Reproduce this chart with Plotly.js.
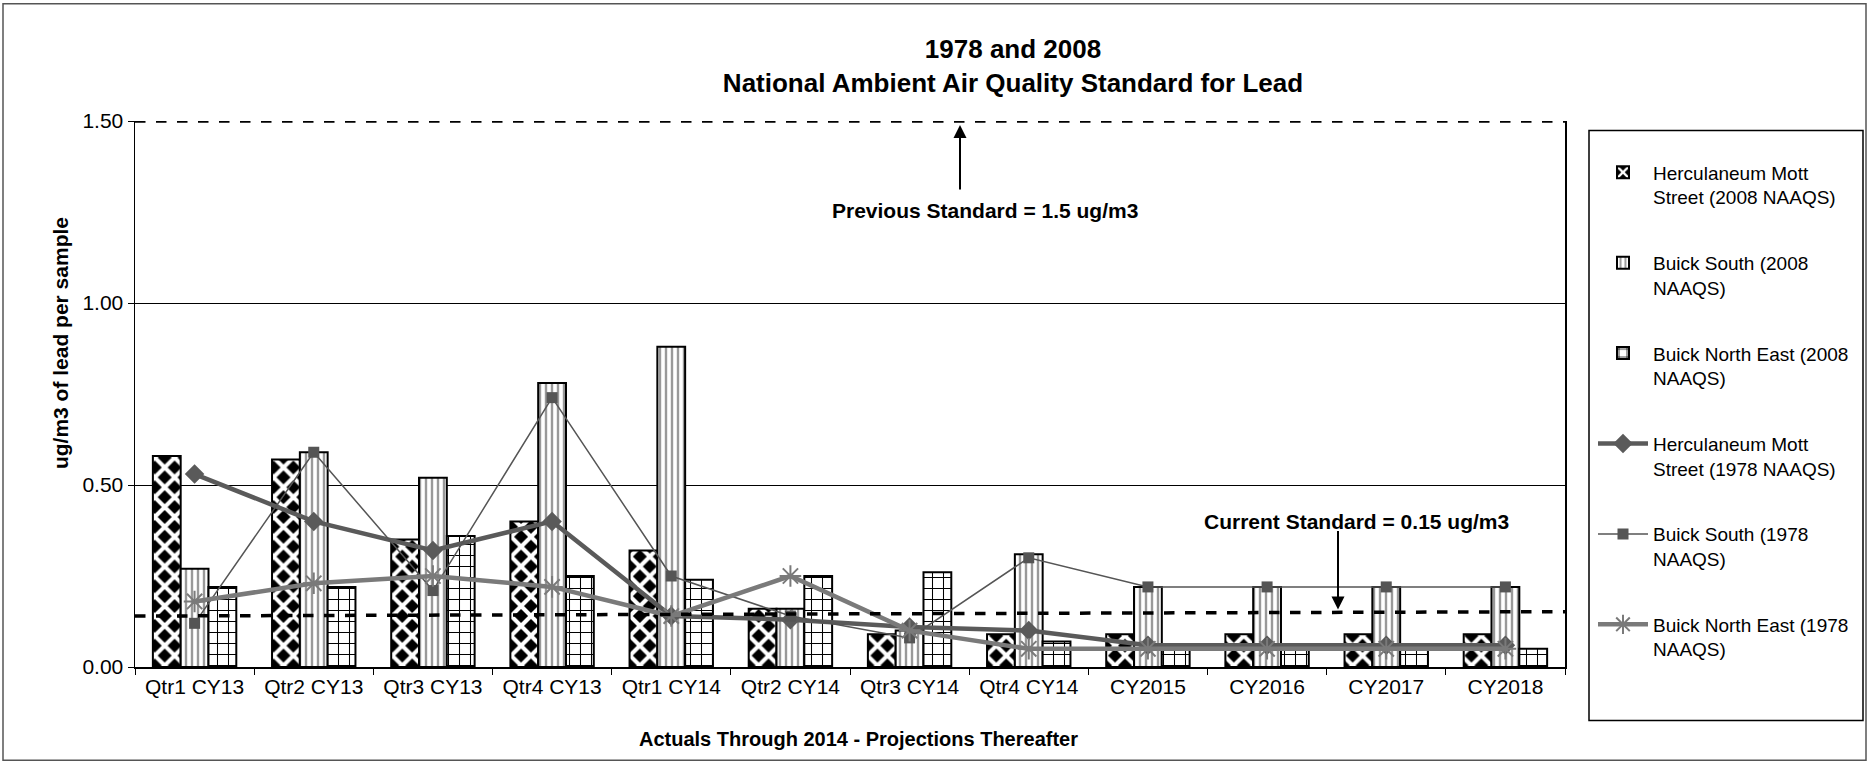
<!DOCTYPE html>
<html>
<head>
<meta charset="utf-8">
<script src="https://cdn.plot.ly/plotly-3.0.1.min.js"></script>
<style>
  html, body { margin: 0; padding: 0; background: #fff; }
  #chart { width: 1869px; height: 764px; }
</style>
</head>
<body>
<div id="chart"></div>
<script>
// ---- data ----
const categories = ['Qtr1 CY13','Qtr2 CY13','Qtr3 CY13','Qtr4 CY13','Qtr1 CY14','Qtr2 CY14','Qtr3 CY14','Qtr4 CY14','CY2015','CY2016','CY2017','CY2018'];
const herc2008       = [0.58, 0.57, 0.35, 0.40, 0.32, 0.16, 0.09, 0.09, 0.09, 0.09, 0.09, 0.09];
const buickSouth2008 = [0.27, 0.59, 0.52, 0.78, 0.88, 0.16, 0.10, 0.31, 0.22, 0.22, 0.22, 0.22];
const buickNE2008    = [0.22, 0.22, 0.36, 0.25, 0.24, 0.25, 0.26, 0.07, 0.05, 0.05, 0.05, 0.05];
const herc1978       = [0.53, 0.40, 0.32, 0.40, 0.14, 0.13, 0.11, 0.10, 0.06, 0.06, 0.06, 0.06];
const buickSouth1978 = [0.12, 0.59, 0.21, 0.74, 0.25, 0.14, 0.08, 0.30, 0.22, 0.22, 0.22, 0.22];
const buickNE1978    = [0.18, 0.23, 0.25, 0.22, 0.14, 0.25, 0.10, 0.05, 0.05, 0.05, 0.05, 0.05];
const yTicks = [0, 0.5, 1.0, 1.5];
const previousStandard = 1.5;
const currentStandardLine = [0.14, 0.152]; // drawn slightly sloped in the reference

const FONT = 'Liberation Sans, Arial, sans-serif';

const traces = [
  {
    type: 'bar', x: categories, y: herc2008, name: 'Herculaneum Mott<br>Street (2008 NAAQS)',
    legendgroup: 'a',
    marker: { color: '#000', line: { color: '#000', width: 2 },
      pattern: { shape: 'x', fgcolor: '#fff', bgcolor: '#000', size: 14, solidity: 0.5 } }
  },
  {
    type: 'bar', x: categories, y: buickSouth2008, name: 'Buick South (2008<br>NAAQS)',
    legendgroup: 'b',
    marker: { color: '#fff', line: { color: '#000', width: 2 },
      pattern: { shape: '|', fgcolor: '#999', bgcolor: '#fff', size: 6, solidity: 0.4 } }
  },
  {
    type: 'bar', x: categories, y: buickNE2008, name: 'Buick North East (2008<br>NAAQS)',
    legendgroup: 'c',
    marker: { color: '#fff', line: { color: '#000', width: 2 },
      pattern: { shape: '+', fgcolor: '#000', bgcolor: '#fff', size: 11, solidity: 0.18 } }
  },
  {
    type: 'scatter', mode: 'lines+markers', x: categories, y: herc1978,
    name: 'Herculaneum Mott<br>Street (1978 NAAQS)', legendgroup: 'd',
    line: { color: '#5a5a5a', width: 4.5 },
    marker: { symbol: 'diamond', size: 15, color: '#5a5a5a' }
  },
  {
    type: 'scatter', mode: 'lines+markers', x: categories, y: buickSouth1978,
    name: 'Buick South (1978<br>NAAQS)', legendgroup: 'e',
    line: { color: '#555', width: 1.5 },
    marker: { symbol: 'square', size: 11, color: '#555' }
  },
  {
    type: 'scatter', mode: 'lines+markers', x: categories, y: buickNE1978,
    name: 'Buick North East (1978<br>NAAQS)', legendgroup: 'f',
    line: { color: '#7a7a7a', width: 4.5 },
    marker: { symbol: 'asterisk-open', size: 18, color: '#7a7a7a', line: { color: '#7a7a7a', width: 2 } }
  }
];

// plot area in px: x 135..1565, y 120.5..667.5
const L = 135, R = 1565, T = 120.5, B = 667.5, W = 1869, H = 764;
const px = v => (v - L) / (R - L);
const py = v => (B - v) / (B - T);

const layout = {
  width: W, height: H,
  paper_bgcolor: '#fff', plot_bgcolor: '#fff',
  margin: { l: L, r: W - R, t: T, b: H - B, pad: 0 },
  font: { family: FONT, color: '#000', size: 18 },
  title: {
    text: '<b>1978 and 2008</b><br><b>National Ambient Air Quality Standard for Lead</b>',
    font: { family: FONT, size: 26, color: '#000' },
    x: px(1013), xref: 'paper', xanchor: 'center',
    y: 1 - 58 / H, yref: 'container', yanchor: 'top'
  },
  barmode: 'group', bargap: 0.3, bargroupgap: 0,
  showlegend: true,
  legend: {
    x: px(1593), y: py(153), xanchor: 'left', yanchor: 'top',
    bgcolor: 'rgba(0,0,0,0)', borderwidth: 0,
    font: { family: FONT, size: 19, color: '#000' },
    tracegroupgap: 38, valign: 'top', itemwidth: 50,
    traceorder: 'grouped'
  },
  xaxis: {
    type: 'category', range: [-0.5, categories.length - 0.5],
    showline: true, linecolor: '#000', linewidth: 1.5,
    ticks: 'outside', tickson: 'boundaries', ticklen: 6, tickcolor: '#000',
    tickfont: { family: FONT, size: 21, color: '#000' },
    showgrid: false, zeroline: false
  },
  yaxis: {
    range: [0, 1.5], tickvals: yTicks, tickformat: '.2f',
    showline: true, linecolor: '#000', linewidth: 1.5, mirror: true,
    ticks: 'outside', ticklen: 6, tickcolor: '#000',
    tickfont: { family: FONT, size: 21, color: '#000' },
    showgrid: true, gridcolor: '#000', gridwidth: 1, zeroline: false
  },
  shapes: [
    // outer frame
    { type: 'rect', xref: 'paper', yref: 'paper', x0: px(3), x1: px(1866), y0: py(761), y1: py(3),
      line: { color: '#555', width: 1.5 }, fillcolor: 'rgba(0,0,0,0)', layer: 'below' },
    // legend frame
    { type: 'rect', xref: 'paper', yref: 'paper', x0: px(1589), x1: px(1863), y0: py(721), y1: py(130),
      line: { color: '#000', width: 1.5 }, fillcolor: 'rgba(0,0,0,0)' },
    // previous standard
    { type: 'line', xref: 'paper', yref: 'y', x0: 0, x1: 1, y0: previousStandard, y1: previousStandard,
      line: { color: '#000', width: 3.5, dash: 'dash' } },
    // current standard
    { type: 'line', xref: 'paper', yref: 'y', x0: 0, x1: 1, y0: currentStandardLine[0], y1: currentStandardLine[1],
      line: { color: '#000', width: 3.5, dash: 'dash' } }
  ],
  annotations: [
    // axis titles (placed as annotations to match the reference positions)
    { xref: 'paper', yref: 'paper', x: px(60), y: py(343), xanchor: 'center', yanchor: 'middle',
      showarrow: false, textangle: -90,
      text: '<b>ug/m3 of lead per sample</b>', font: { family: FONT, size: 21, color: '#000' } },
    { xref: 'paper', yref: 'paper', x: px(858), y: py(740), xanchor: 'center', yanchor: 'middle',
      showarrow: false,
      text: '<b>Actuals Through 2014 - Projections Thereafter</b>', font: { family: FONT, size: 20, color: '#000' } },
    // standards
    { xref: 'paper', yref: 'paper', x: px(985), y: py(210), xanchor: 'center', yanchor: 'middle',
      showarrow: false,
      text: '<b>Previous Standard = 1.5 ug/m3</b>', font: { family: FONT, size: 21, color: '#000' } },
    { xref: 'paper', yref: 'y', x: px(960), y: previousStandard, text: '', showarrow: true,
      arrowhead: 2, arrowsize: 1.3, arrowwidth: 2, arrowcolor: '#000', ax: 0, ay: 70, standoff: 4 },
    { xref: 'paper', yref: 'paper', x: px(1356), y: py(522), xanchor: 'center', yanchor: 'middle',
      showarrow: false,
      text: '<b>Current Standard = 0.15 ug/m3</b>', font: { family: FONT, size: 21, color: '#000' } },
    { xref: 'paper', yref: 'paper', x: px(1338), y: py(610), text: '', showarrow: true,
      arrowhead: 2, arrowsize: 1.3, arrowwidth: 2, arrowcolor: '#000', ax: 0, ay: -80, standoff: 0 }
  ]
};

Plotly.newPlot('chart', traces, layout, { displayModeBar: false, staticPlot: true });
</script>
</body>
</html>
